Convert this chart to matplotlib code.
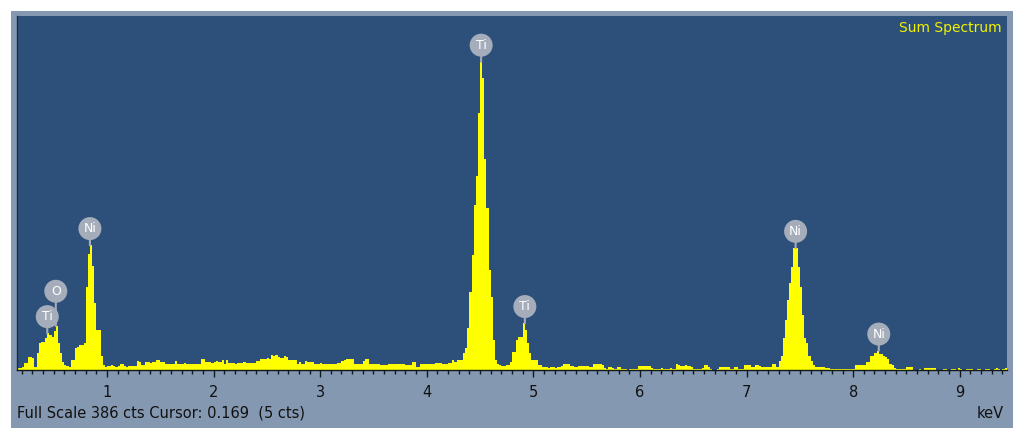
import numpy as np
import matplotlib.pyplot as plt

# spectrum, 0.02 keV channels starting at 0.16 keV (one row = 0.2 keV)
e_start = 0.16
e_step = 0.02
counts = [
    2, 2, 3, 8, 8, 14, 14, 13, 3, 19,
    29, 31, 31, 35, 40, 38, 36, 42, 48, 29,
    18, 9, 5, 4, 3, 11, 11, 24, 25, 27,
    27, 29, 91, 127, 136, 113, 73, 44, 44, 15,
    5, 3, 4, 4, 5, 4, 3, 4, 6, 7,
    4, 3, 4, 4, 4, 4, 10, 9, 5, 5,
    9, 9, 8, 9, 9, 11, 11, 9, 9, 7,
    7, 7, 7, 7, 10, 7, 7, 7, 8, 7,
    7, 6, 7, 7, 7, 7, 12, 12, 9, 9,
    9, 8, 9, 10, 9, 9, 11, 7, 11, 8,
    8, 8, 7, 8, 8, 8, 9, 8, 8, 8,
    8, 8, 10, 10, 12, 12, 12, 13, 12, 16,
    15, 16, 14, 13, 13, 15, 14, 11, 11, 11,
    11, 7, 9, 7, 7, 10, 9, 9, 9, 7,
    7, 7, 8, 7, 7, 7, 6, 6, 6, 6,
    8, 8, 10, 11, 12, 12, 12, 12, 7, 7,
    7, 7, 10, 12, 12, 7, 7, 7, 7, 7,
    5, 5, 5, 5, 7, 7, 7, 7, 6, 6,
    6, 6, 5, 5, 5, 9, 9, 3, 3, 7,
    7, 7, 7, 7, 7, 7, 8, 8, 8, 7,
    7, 7, 8, 8, 11, 9, 11, 11, 11, 18,
    24, 46, 85, 125, 180, 211, 280, 336, 318, 230,
    177, 109, 80, 33, 11, 6, 5, 4, 4, 5,
    5, 9, 20, 20, 33, 36, 36, 51, 44, 29,
    18, 11, 11, 11, 5, 5, 3, 3, 3, 2,
    3, 3, 2, 3, 3, 4, 7, 7, 7, 4,
    4, 3, 3, 4, 4, 4, 4, 4, 3, 3,
    6, 6, 6, 6, 5, 2, 1, 3, 3, 2,
    1, 3, 3, 1, 1, 1, 0, 1, 1, 1,
    1, 4, 4, 4, 4, 4, 4, 2, 1, 1,
    1, 1, 2, 1, 1, 1, 2, 1, 1, 6,
    5, 4, 4, 5, 4, 4, 3, 1, 1, 1,
    1, 2, 5, 5, 3, 1, 0, 0, 1, 3,
    3, 3, 3, 3, 1, 1, 3, 3, 1, 1,
    1, 5, 5, 5, 3, 3, 5, 5, 4, 3,
    3, 3, 3, 3, 7, 7, 3, 10, 15, 35,
    55, 76, 95, 112, 133, 133, 112, 90, 60, 35,
    29, 15, 10, 5, 3, 3, 3, 3, 3, 2,
    2, 1, 1, 1, 1, 1, 1, 1, 1, 1,
    1, 1, 1, 5, 5, 5, 5, 5, 9, 9,
    15, 15, 19, 21, 17, 17, 15, 14, 12, 7,
    5, 2, 1, 1, 1, 1, 1, 3, 3, 3,
    0, 0, 0, 1, 0, 2, 2, 2, 2, 2,
    2, 0, 0, 0, 1, 1, 0, 0, 1, 1,
    0, 2, 1, 0, 0, 1, 1, 1, 0, 0,
    1, 1, 0, 0, 1, 1, 0, 0, 1, 2,
    1, 0, 1, 2,
]

# peak labels: element, energy (keV), extra lift of the marker (pt)
peak_names = ['Ti', 'O', 'Ni', 'Ti', 'Ti', 'Ni', 'Ni']
peak_energy = [0.44, 0.52, 0.84, 4.51, 4.92, 7.46, 8.24]
peak_lift = [0, 13, 0, 0, 0, 0, 0]

full_scale = 386
cursor_text = 'Full Scale 386 cts Cursor: 0.169  (5 cts)'

counts = np.array(counts)
edges = np.round(e_start + e_step * np.arange(len(counts) + 1), 2)

W, H = 1024, 440
fig = plt.figure(figsize=(W / 100, H / 100), dpi=100)
fig.patch.set_facecolor('white')

# grey-blue outer panel
bg = fig.add_axes([11 / W, 1 - 428 / H, (1013 - 11) / W, (428 - 11) / H], zorder=0)
bg.set_facecolor('#8598b1')
bg.set_xticks([])
bg.set_yticks([])
for s in bg.spines.values():
    s.set_visible(False)

ax = fig.add_axes([17 / W, 1 - 370 / H, (1007 - 17) / W, (370 - 16) / H], zorder=1)
ax.set_facecolor('#2c5079')
ax.stairs(counts, edges, fill=True, color='#ffff00', lw=0)
ax.set_xlim(0.156, 9.443)
ax.set_ylim(0, full_scale)

for s in ['top', 'right']:
    ax.spines[s].set_visible(False)
ax.spines['left'].set_color('#1c2c40')
ax.spines['bottom'].set_color('#101820')
ax.spines['left'].set_linewidth(1.0)
ax.spines['bottom'].set_linewidth(1.0)

ax.set_xticks(np.arange(1, 10))
ax.set_xticks(np.arange(0.2, 9.45, 0.1), minor=True)
ax.set_yticks([])
ax.tick_params(axis='x', which='major', direction='out', length=5, width=1,
               color='#101820', pad=6, labelsize=10.5, labelcolor='#111111')
ax.tick_params(axis='x', which='minor', direction='out', length=3, width=1,
               color='#101820')

# element markers
for name, en, lift in zip(peak_names, peak_energy, peak_lift):
    sel = (edges[:-1] >= en - 0.03) & (edges[:-1] <= en + 0.03)
    top = counts[sel].max()
    ax.annotate('', xy=(en, top), xytext=(0, 5 + lift), textcoords='offset points',
                arrowprops=dict(arrowstyle='-', color='#a5adbb', lw=1.5,
                                shrinkA=0, shrinkB=0))
    ax.annotate(name, xy=(en, top), xytext=(0, 12 + lift), textcoords='offset points',
                ha='center', va='center', color='white', fontsize=9,
                bbox=dict(boxstyle='circle,pad=0.4', fc='#a5adbb', ec='none'))

ax.text(0.995, 0.985, 'Sum Spectrum', transform=ax.transAxes, ha='right', va='top',
        color='#f2f200', fontsize=10)

fig.text(17 / W, 1 - 413 / H, cursor_text, ha='left', va='center',
         fontsize=10.5, color='#111111')
fig.text(1004 / W, 1 - 413 / H, 'keV', ha='right', va='center',
         fontsize=10.5, color='#111111')

fig.savefig('out.png', dpi=100)
